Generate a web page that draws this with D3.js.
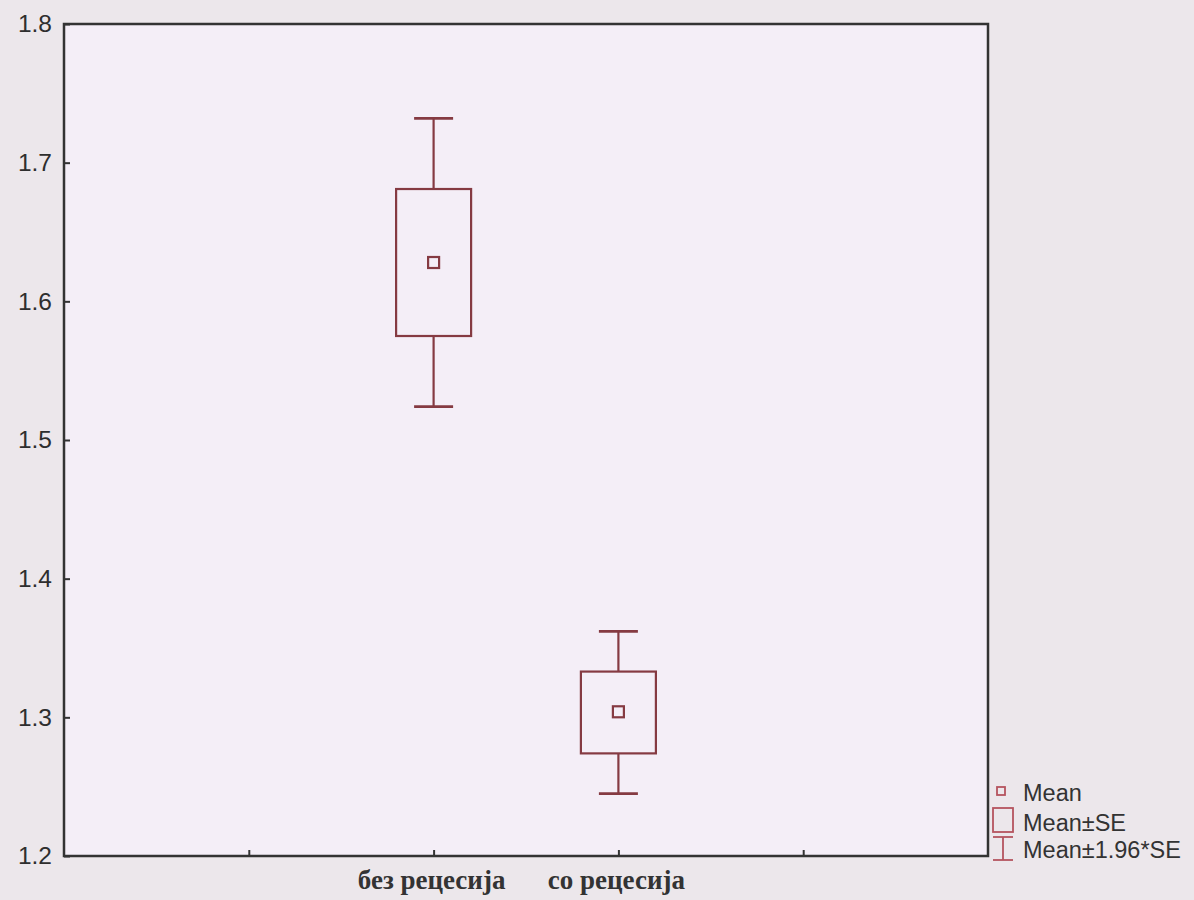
<!DOCTYPE html>
<html><head><meta charset="utf-8">
<script src="https://cdn.jsdelivr.net/npm/d3@7"></script>
<style>body{margin:0;background:#ece7eb;}svg{display:block;}</style>
</head><body>
<script>
const categories = ["без рецесија", "со рецесија"];
const categoryPos = [2, 3];
const means = [1.628, 1.304];
const seLow = [1.575, 1.274];
const seHigh = [1.681, 1.333];
const ciLow = [1.524, 1.245];
const ciHigh = [1.732, 1.362];
const yTicks = [1.2, 1.3, 1.4, 1.5, 1.6, 1.7, 1.8];
const xTicks = [1, 2, 3, 4];
const legendLabels = ["Mean", "Mean±SE", "Mean±1.96*SE"];

const W = 1194, H = 900;
const m = {l: 64, t: 24, r: 988, b: 856};
const svg = d3.select("body").append("svg").attr("width", W).attr("height", H);
svg.append("rect").attr("width", W).attr("height", H).attr("fill", "#ece7eb");

const x = d3.scaleLinear().domain([0, 5]).range([m.l, m.r]);
const y = d3.scaleLinear().domain([1.2, 1.8]).range([m.b, m.t]);

svg.append("rect").attr("x", m.l).attr("y", m.t).attr("width", m.r - m.l).attr("height", m.b - m.t)
  .attr("fill", "#f4eef7");

const col = "#853a42";
const g = svg.append("g");
const boxW = 75, capW = 39, mk = 11;
categories.forEach((c, i) => {
  const cx = x(categoryPos[i]);
  g.append("line").attr("x1", cx).attr("x2", cx).attr("y1", y(ciHigh[i])).attr("y2", y(seHigh[i])).attr("stroke", col).attr("stroke-width", 2.2);
  g.append("line").attr("x1", cx).attr("x2", cx).attr("y1", y(seLow[i])).attr("y2", y(ciLow[i])).attr("stroke", col).attr("stroke-width", 2.2);
  [ciHigh[i], ciLow[i]].forEach(v => g.append("line").attr("x1", cx - capW / 2).attr("x2", cx + capW / 2).attr("y1", y(v)).attr("y2", y(v)).attr("stroke", col).attr("stroke-width", 2.8));
  g.append("rect").attr("x", cx - boxW / 2).attr("y", y(seHigh[i])).attr("width", boxW).attr("height", y(seLow[i]) - y(seHigh[i]))
    .attr("fill", "none").attr("stroke", col).attr("stroke-width", 2.2);
  g.append("rect").attr("x", cx - mk / 2).attr("y", y(means[i]) - mk / 2).attr("width", mk).attr("height", mk)
    .attr("fill", "none").attr("stroke", col).attr("stroke-width", 2.2);
});

// axes
const yAxis = d3.axisLeft(y).tickValues(yTicks).tickSize(-6).tickPadding(12).tickFormat(d3.format(".1f"));
const ya = svg.append("g").attr("transform", `translate(${m.l},0)`).call(yAxis);
ya.select(".domain").remove();
ya.selectAll("line").attr("stroke", "#333").attr("stroke-width", 2);
ya.selectAll("text").attr("font-family", "Liberation Sans, Arial, sans-serif").attr("font-size", 24.5).attr("fill", "#2e2e2e");

const xAxis = d3.axisBottom(x).tickValues(xTicks).tickSize(-6).tickFormat("");
const xa = svg.append("g").attr("transform", `translate(0,${m.b})`).call(xAxis);
xa.select(".domain").remove();
xa.selectAll("line").attr("stroke", "#333").attr("stroke-width", 2);

svg.append("rect").attr("x", m.l).attr("y", m.t).attr("width", m.r - m.l).attr("height", m.b - m.t)
  .attr("fill", "none").attr("stroke", "#333").attr("stroke-width", 2.5);

categories.forEach((c, i) => {
  svg.append("text").attr("x", x(categoryPos[i]) - 2).attr("y", 889).attr("text-anchor", "middle")
    .attr("font-family", "Liberation Serif, Times New Roman, serif").attr("font-weight", "bold").attr("font-size", 27)
    .attr("fill", "#333").text(c);
});

// legend
const lc = "#b5545f";
const lg = svg.append("g");
lg.append("rect").attr("x", 997).attr("y", 787).attr("width", 8).attr("height", 8).attr("fill", "none").attr("stroke", lc).attr("stroke-width", 1.8);
lg.append("rect").attr("x", 993).attr("y", 808).attr("width", 20).attr("height", 24).attr("fill", "none").attr("stroke", lc).attr("stroke-width", 1.8);
lg.append("line").attr("x1", 993).attr("x2", 1013).attr("y1", 837).attr("y2", 837).attr("stroke", lc).attr("stroke-width", 1.8);
lg.append("line").attr("x1", 993).attr("x2", 1013).attr("y1", 860).attr("y2", 860).attr("stroke", lc).attr("stroke-width", 1.8);
lg.append("line").attr("x1", 1003).attr("x2", 1003).attr("y1", 837).attr("y2", 860).attr("stroke", lc).attr("stroke-width", 1.8);
[801, 831, 858].forEach((yy, i) => {
  lg.append("text").attr("x", 1023).attr("y", yy).attr("font-family", "Liberation Sans, Arial, sans-serif")
    .attr("font-size", 23.5).attr("fill", "#333").text(legendLabels[i]);
});
</script>
</body></html>
